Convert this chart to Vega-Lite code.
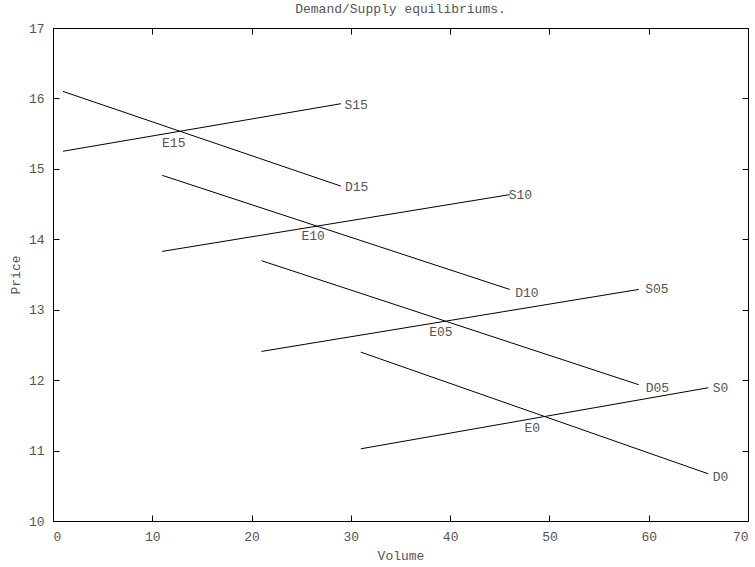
{
  "$schema": "https://vega.github.io/schema/vega-lite/v6.json",
  "autosize": "none",
  "width": 695,
  "height": 493,
  "padding": {"left": 53, "top": 28, "right": 7, "bottom": 47},
  "background": "white",
  "title": {"text": "Demand/Supply equilibriums.", "font": "Liberation Mono", "fontSize": 13, "fontWeight": "normal", "color": "#555", "offset": 6, "anchor": "middle"},
  "config": {
    "view": {"stroke": "black", "strokeWidth": 1},
    "font": "Liberation Mono",
    "axis": {"grid": false, "domainColor": "black", "tickColor": "black", "labelFont": "Liberation Mono", "labelFontSize": 13, "labelColor": "#555", "titleFont": "Liberation Mono", "titleFontSize": 13, "titleFontWeight": "normal", "titleColor": "#555", "tickSize": -6, "domainWidth": 1, "tickWidth": 1}
  },
  "datasets": {
    "curves": [
      {"curve": "S15", "volume": 1, "price": 15.25},
      {"curve": "S15", "volume": 29, "price": 15.925},
      {"curve": "D15", "volume": 1, "price": 16.1},
      {"curve": "D15", "volume": 29, "price": 14.755},
      {"curve": "S10", "volume": 11, "price": 13.828},
      {"curve": "S10", "volume": 46, "price": 14.634},
      {"curve": "D10", "volume": 11, "price": 14.908},
      {"curve": "D10", "volume": 46, "price": 13.288},
      {"curve": "S05", "volume": 21, "price": 12.408},
      {"curve": "S05", "volume": 59, "price": 13.288},
      {"curve": "D05", "volume": 21, "price": 13.696},
      {"curve": "D05", "volume": 59, "price": 11.935},
      {"curve": "S0", "volume": 31, "price": 11.025},
      {"curve": "S0", "volume": 66, "price": 11.892},
      {"curve": "D0", "volume": 31, "price": 12.398},
      {"curve": "D0", "volume": 66, "price": 10.67}
    ],
    "endLabels": [
      {"label": "S15", "volume": 29.35, "price": 15.91},
      {"label": "D15", "volume": 29.4, "price": 14.74},
      {"label": "S10", "volume": 45.9, "price": 14.63},
      {"label": "D10", "volume": 46.55, "price": 13.24},
      {"label": "S05", "volume": 59.65, "price": 13.3},
      {"label": "D05", "volume": 59.7, "price": 11.89},
      {"label": "S0", "volume": 66.45, "price": 11.89},
      {"label": "D0", "volume": 66.45, "price": 10.625}
    ],
    "eqLabels": [
      {"label": "E15", "volume": 12.16, "price": 15.37},
      {"label": "E10", "volume": 26.2, "price": 14.04},
      {"label": "E05", "volume": 39.07, "price": 12.69},
      {"label": "E0", "volume": 48.28, "price": 11.32}
    ]
  },
  "layer": [
    {
      "data": {"name": "curves"},
      "mark": {"type": "line", "color": "black", "strokeWidth": 1},
      "encoding": {
        "x": {"field": "volume", "type": "quantitative", "scale": {"domain": [0, 70], "nice": false}, "axis": {"orient": "bottom", "title": "Volume", "values": [0, 10, 20, 30, 40, 50, 60, 70], "labelPadding": 15, "titlePadding": 6}},
        "y": {"field": "price", "type": "quantitative", "scale": {"domain": [10, 17], "nice": false, "zero": false}, "axis": {"orient": "left", "title": "Price", "values": [10, 11, 12, 13, 14, 15, 16, 17], "labelPadding": 15, "titlePadding": 6}},
        "detail": {"field": "curve"}
      }
    },
    {
      "data": {"name": "curves"},
      "mark": {"type": "line", "strokeOpacity": 0},
      "encoding": {
        "x": {"field": "volume", "type": "quantitative", "axis": {"orient": "top", "title": null, "labels": false, "domain": false, "values": [0, 10, 20, 30, 40, 50, 60, 70]}},
        "y": {"field": "price", "type": "quantitative", "axis": {"orient": "right", "title": null, "labels": false, "domain": false, "values": [10, 11, 12, 13, 14, 15, 16, 17]}},
        "detail": {"field": "curve"}
      }
    },
    {
      "data": {"name": "endLabels"},
      "mark": {"type": "text", "align": "left", "baseline": "middle", "font": "Liberation Mono", "fontSize": 13, "color": "#555"},
      "encoding": {
        "x": {"field": "volume", "type": "quantitative", "axis": null},
        "y": {"field": "price", "type": "quantitative", "axis": null},
        "text": {"field": "label"}
      }
    },
    {
      "data": {"name": "eqLabels"},
      "mark": {"type": "text", "align": "center", "baseline": "middle", "font": "Liberation Mono", "fontSize": 13, "color": "#555"},
      "encoding": {
        "x": {"field": "volume", "type": "quantitative", "axis": null},
        "y": {"field": "price", "type": "quantitative", "axis": null},
        "text": {"field": "label"}
      }
    }
  ],
  "resolve": {"axis": {"x": "independent", "y": "independent"}}
}
